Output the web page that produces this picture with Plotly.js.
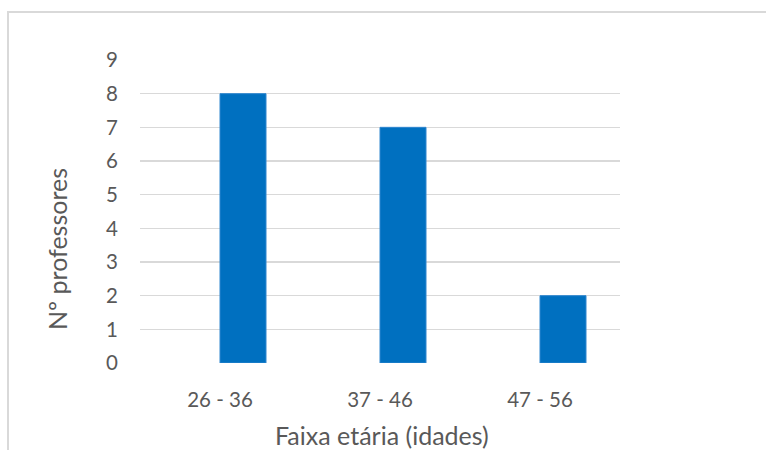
<!DOCTYPE html>
<html>
<head>
<meta charset="utf-8">
<script src="https://cdn.plot.ly/plotly-3.0.1.min.js"></script>
<style>html,body{margin:0;padding:0;background:#fff;}#chart{width:766px;height:450px;}</style>
</head>
<body>
<div id="chart"></div>
<script>
const categories = ["26 - 36", "37 - 46", "47 - 56"];
const professores = [8, 7, 2];
const yTicks = [0, 1, 2, 3, 4, 5, 6, 7, 8, 9];
const xTitle = "Faixa etária (idades)";
const yTitle = "Nº professores";

const W = 766, H = 450;
const L = 140, R = 146, T = 60, B = 87;
const pw = W - L - R, ph = H - T - B;
const px = x => (x - L) / pw;
const py = y => (H - B - y) / ph;

const font = "Lato, 'Open Sans', sans-serif";
const grey = "#595959";

const trace = {
  type: "bar",
  x: categories,
  y: professores,
  offset: 0,
  width: 0.2875,
  marker: { color: "#0070c0", line: { color: "#2f86cf", width: 1 } },
  hoverinfo: "none"
};

const layout = {
  width: W, height: H,
  margin: { l: L, r: R, t: T, b: B, pad: 0 },
  paper_bgcolor: "#ffffff",
  plot_bgcolor: "#ffffff",
  showlegend: false,
  font: { family: font, color: grey, size: 20 },
  xaxis: {
    type: "category",
    range: [-0.5, 2.5],
    showgrid: false,
    zeroline: false,
    showline: false,
    ticks: "",
    ticklabelstandoff: 22,
    tickfont: { family: font, size: 20.5, color: grey },
    fixedrange: true
  },
  yaxis: {
    range: [0, 9],
    tickvals: yTicks,
    ticktext: yTicks.map(String),
    showgrid: true,
    gridcolor: "#d9d9d9",
    gridwidth: 1.3,
    zeroline: false,
    showline: false,
    ticks: "",
    ticklabelstandoff: 21,
    tickfont: { family: font, size: 20.5, color: grey },
    fixedrange: true
  },
  shapes: [
    { type: "line", xref: "paper", yref: "paper", x0: px(8), x1: px(8), y0: py(12), y1: py(452), line: { color: "#d9d9d9", width: 2 } },
    { type: "line", xref: "paper", yref: "paper", x0: px(7), x1: px(768), y0: py(12), y1: py(12), line: { color: "#d9d9d9", width: 2 } }
  ],
  annotations: [
    { text: xTitle, xref: "paper", yref: "paper", x: px(382), y: py(435), showarrow: false, xanchor: "center", yanchor: "middle", font: { family: font, size: 25, color: grey } },
    { text: yTitle, xref: "paper", yref: "paper", x: px(57), y: py(249), showarrow: false, textangle: -90, xanchor: "center", yanchor: "middle", font: { family: font, size: 25, color: grey } }
  ]
};

Plotly.newPlot("chart", [trace], layout, { displayModeBar: false, staticPlot: true });
</script>
</body>
</html>
